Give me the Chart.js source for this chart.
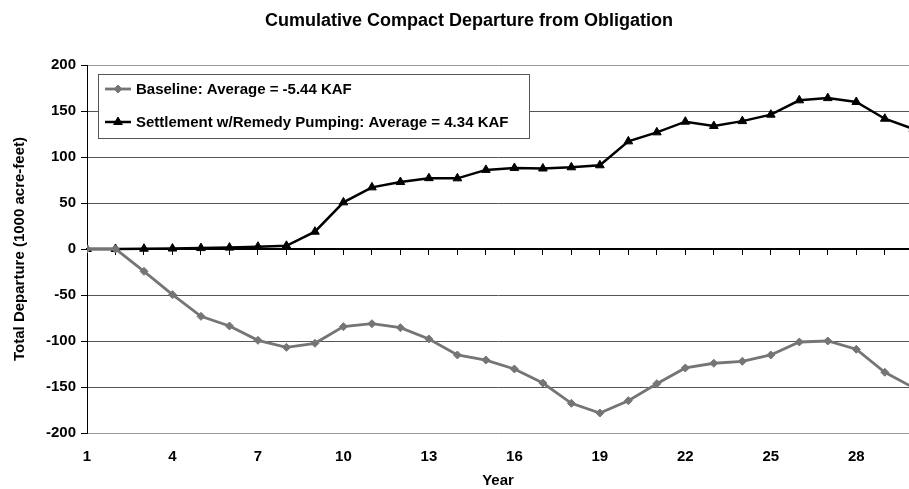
<!DOCTYPE html>
<html><head><meta charset="utf-8">
<script src="https://cdn.jsdelivr.net/npm/chart.js@4/dist/chart.umd.min.js"></script>
<style>html,body{margin:0;padding:0;background:#fff}#wrap{width:909px;height:489px}</style>
</head><body><div id="wrap"><canvas id="c" width="909" height="489"></canvas></div>
<script>
const years = [1,2,3,4,5,6,7,8,9,10,11,12,13,14,15,16,17,18,19,20,21,22,23,24,25,26,27,28,29,30];
const baseline = [0,0,-24.3,-49.6,-73.2,-83.7,-99.3,-106.9,-102.5,-84.4,-81.2,-85.5,-97.8,-115.2,-120.7,-130.4,-145.7,-167.7,-178.3,-164.9,-146.4,-129.3,-124.2,-122.1,-115.2,-101.1,-100,-109,-134,-150.6];
const settlement = [0,0,0.3,0.5,1,1.5,2.5,3.5,18.8,50.7,67,72.8,77,76.8,86,88,87.5,88.8,91,117,126.8,138.4,133.7,139,146,161.6,164,159.8,141.6,130.6];
const xTickLabels = [1,4,7,10,13,16,19,22,25,28];
const yTickValues = [200,150,100,50,0,-50,-100,-150,-200];
const seriesNames = ['Baseline: Average = -5.44 KAF','Settlement w/Remedy Pumping: Average = 4.34 KAF'];
const chartTitle = 'Cumulative Compact Departure from Obligation';
const xTitle = 'Year';
const yTitle = 'Total Departure (1000 acre-feet)';

const FONT = 'Liberation Sans, Arial, sans-serif';
const X_MIN = 1, X_MAX = 29.85;

const legendBox = {
  id: 'legendBox',
  afterDraw(chart) {
    const ctx = chart.ctx;
    const ca = chart.chartArea;
    const x0 = ca.left + 11, y0 = ca.top + 9, w = 431, h = 64;
    ctx.save();
    ctx.fillStyle = '#fff';
    ctx.fillRect(x0, y0, w, h);
    ctx.strokeStyle = '#555';
    ctx.lineWidth = 1;
    ctx.strokeRect(x0 + 0.5, y0 + 0.5, w, h);
    const rows = [y0 + 15, y0 + 48];
    chart.data.datasets.forEach((ds, i) => {
      const y = rows[i];
      ctx.strokeStyle = ds.borderColor;
      ctx.lineWidth = ds.borderWidth;
      ctx.beginPath();
      ctx.moveTo(x0 + 7, y);
      ctx.lineTo(x0 + 33, y);
      ctx.stroke();
      ctx.fillStyle = ds.pointBackgroundColor;
      ctx.strokeStyle = ds.pointBorderColor;
      ctx.lineWidth = ds.pointBorderWidth;
      Chart.helpers.drawPoint(ctx, {pointStyle: ds.pointStyle, radius: ds.pointRadius, rotation: 0, borderWidth: ds.pointBorderWidth}, x0 + 20, y);
      ctx.fillStyle = '#000';
      ctx.font = 'bold 15px ' + FONT;
      ctx.textBaseline = 'middle';
      ctx.textAlign = 'left';
      ctx.fillText(ds.label, x0 + 38, y + 1);
    });
    ctx.restore();
  }
};

const shiftTitle = {
  id: 'shiftTitle',
  afterLayout(chart) {
    const t = chart.titleBlock;
    if (t) { t.left += 14.5; t.right += 14.5; }
  }
};

new Chart(document.getElementById('c'), {
  type: 'line',
  data: {
    datasets: [
      {
        label: seriesNames[0],
        data: years.map((y, i) => ({x: y, y: baseline[i]})),
        borderColor: '#757575',
        backgroundColor: '#757575',
        borderWidth: 2.8,
        pointStyle: 'rectRot',
        pointRadius: 4,
        pointBackgroundColor: '#757575',
        pointBorderColor: '#757575',
        pointBorderWidth: 1,
        tension: 0
      },
      {
        label: seriesNames[1],
        data: years.map((y, i) => ({x: y, y: settlement[i]})),
        borderColor: '#000000',
        backgroundColor: '#000000',
        borderWidth: 2.5,
        pointStyle: 'triangle',
        pointRadius: 5,
        pointBackgroundColor: '#000000',
        pointBorderColor: '#000000',
        pointBorderWidth: 1,
        tension: 0
      }
    ]
  },
  options: {
    responsive: false,
    animation: false,
    events: [],
    layout: {padding: 0, autoPadding: false},
    plugins: {
      legend: {display: false},
      tooltip: {enabled: false},
      title: {
        display: true,
        text: chartTitle,
        color: '#000',
        font: {family: FONT, size: 18, weight: 'bold'},
        padding: {top: 10, bottom: 33.4}
      }
    },
    scales: {
      x: {
        type: 'linear',
        position: 'bottom',
        min: X_MIN, max: X_MAX,
        afterBuildTicks(s) { s.ticks = xTickLabels.map(v => ({value: v})); },
        afterFit(s) { s.height = 56; },
        grid: {display: false, drawTicks: false},
        border: {display: false},
        ticks: {color: '#000', font: {family: FONT, size: 15, weight: 'bold'}, padding: 15, maxRotation: 0, autoSkip: false},
        title: {display: true, text: xTitle, color: '#000', font: {family: FONT, size: 15, weight: 'bold'}, padding: {top: 0, bottom: -1}}
      },
      x0: {
        type: 'linear',
        axis: 'x',
        position: {y: 0},
        min: X_MIN, max: X_MAX,
        afterBuildTicks(s) { s.ticks = years.map(v => ({value: v})); },
        afterFit(s) { s.height = 0; },
        grid: {drawOnChartArea: false, drawTicks: true, tickLength: 5, color: '#000', lineWidth: 1},
        border: {display: true, color: '#000', width: 2},
        ticks: {display: false}
      },
      y: {
        type: 'linear',
        min: -200, max: 200,
        afterBuildTicks(s) { s.ticks = yTickValues.map(v => ({value: v})); },
        afterFit(s) { s.width = 87; },
        grid: {
          color: (c) => (c.tick && c.tick.value === 0) ? 'rgba(0,0,0,0)' : (c.tick && Math.abs(c.tick.value) === 200 ? '#999' : '#555'),
          tickColor: '#000',
          tickLength: 6,
          lineWidth: 1
        },
        border: {display: true, color: '#000', width: 1},
        ticks: {color: '#000', font: {family: FONT, size: 15, weight: 'bold'}, padding: 5},
        title: {display: true, text: yTitle, color: '#000', font: {family: FONT, size: 15, weight: 'bold'}, padding: {top: 11, bottom: 0}}
      }
    }
  },
  plugins: [legendBox, shiftTitle]
});
</script>
</body></html>
